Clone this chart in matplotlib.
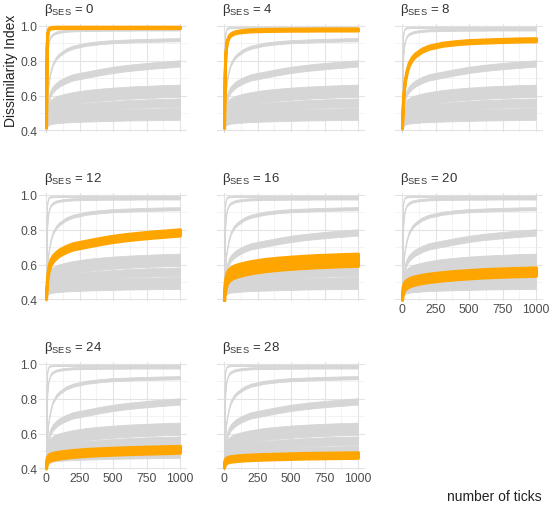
import matplotlib
matplotlib.use("Agg")
import matplotlib.pyplot as plt
from matplotlib.ticker import MultipleLocator
from matplotlib import font_manager
import numpy as np

# ---- data ----
betas = [0, 4, 8, 12, 16, 20, 24, 28]
ticks = [0, 5, 10, 20, 35, 50, 75, 100, 150, 200, 300, 400, 500, 600, 700, 800, 900, 1000]

di_b0 = [0.42, 0.88, 0.96, 0.985, 0.99, 0.991, 0.992, 0.992, 0.992, 0.992, 0.992, 0.992, 0.992, 0.992, 0.992, 0.992, 0.992, 0.992]
di_b4 = [0.42, 0.72, 0.84, 0.91, 0.94, 0.952, 0.962, 0.967, 0.972, 0.975, 0.977, 0.978, 0.979, 0.979, 0.98, 0.98, 0.98, 0.98]
di_b8 = [0.42, 0.53, 0.60, 0.68, 0.74, 0.78, 0.815, 0.835, 0.862, 0.878, 0.895, 0.904, 0.91, 0.913, 0.916, 0.918, 0.92, 0.921]
di_b12 = [0.42, 0.48, 0.53, 0.58, 0.615, 0.635, 0.655, 0.67, 0.69, 0.705, 0.72, 0.735, 0.748, 0.758, 0.766, 0.773, 0.779, 0.785]
di_b16 = [0.42, 0.46, 0.49, 0.52, 0.54, 0.55, 0.56, 0.567, 0.577, 0.585, 0.597, 0.605, 0.611, 0.616, 0.62, 0.623, 0.626, 0.628]
di_b20 = [0.42, 0.45, 0.465, 0.48, 0.49, 0.497, 0.505, 0.51, 0.518, 0.524, 0.533, 0.54, 0.545, 0.55, 0.553, 0.556, 0.558, 0.56]
di_b24 = [0.42, 0.44, 0.45, 0.46, 0.466, 0.47, 0.474, 0.477, 0.482, 0.486, 0.492, 0.496, 0.499, 0.502, 0.504, 0.506, 0.508, 0.51]
di_b28 = [0.42, 0.435, 0.442, 0.448, 0.452, 0.455, 0.457, 0.459, 0.462, 0.464, 0.467, 0.469, 0.471, 0.473, 0.474, 0.475, 0.476, 0.477]

# half-width of the noisy band of each run
band_halfwidth = [0.004, 0.006, 0.009, 0.018, 0.035, 0.024, 0.02, 0.016]

series = [di_b0, di_b4, di_b8, di_b12, di_b16, di_b20, di_b24, di_b28]

x_ticks = [0, 250, 500, 750, 1000]
y_ticks = [0.4, 0.6, 0.8, 1.0]

# ---- style ----
GRAY = "#d6d6d6"
ORANGE = "#FFA500"
available = {f.name for f in font_manager.fontManager.ttflist}
base = 'Liberation Sans Narrow' if 'Liberation Sans Narrow' in available else 'Liberation Sans'
plt.rcParams['font.family'] = [base, 'DejaVu Sans']
plt.rcParams['mathtext.fontset'] = 'custom'
plt.rcParams['mathtext.rm'] = base

W, H = 550, 506
fig = plt.figure(figsize=(W / 100, H / 100), dpi=100)

xlim = (-50, 1050)
ylim = (0.39, 1.012)
col_x0 = [39.3, 217.3, 395.3]
ax_w = 147.4
row_top = [24.9, 193.9, 362.9]
ax_h = 108.3

xs = np.array(ticks, dtype=float)

for i, b in enumerate(betas):
    r, c = divmod(i, 3)
    ax = fig.add_axes([col_x0[c] / W, 1 - (row_top[r] + ax_h) / H, ax_w / W, ax_h / H])
    ax.set_xlim(*xlim)
    ax.set_ylim(*ylim)
    for s in ax.spines.values():
        s.set_visible(False)
    ax.set_xticks(x_ticks)
    ax.set_yticks(y_ticks)
    ax.xaxis.set_minor_locator(MultipleLocator(125))
    ax.yaxis.set_minor_locator(MultipleLocator(0.1))
    ax.grid(True, which='major', color='#e3e3e3', lw=0.8)
    ax.grid(True, which='minor', color='#eeeeee', lw=0.5)
    ax.set_axisbelow(True)
    ax.tick_params(which='both', length=0, labelsize=8.8, colors='#4d4d4d', pad=1.5)
    if c != 0:
        ax.tick_params(axis='y', labelleft=False)
    if i not in (5, 6, 7):
        ax.tick_params(axis='x', labelbottom=False)

    for j, (vals, hw) in enumerate(zip(series, band_halfwidth)):
        v = np.array(vals)
        ax.fill_between(xs, v - hw, v + hw, color=GRAY, lw=0.6, edgecolor=GRAY, zorder=2)
    v = np.array(series[i])
    hw = band_halfwidth[i]
    ax.fill_between(xs, v - hw, v + hw, color=ORANGE, lw=2.2, edgecolor=ORANGE, zorder=3)

    ax.text(0.03, 1.06, r'β$_{\mathrm{SES}}$ = %d' % b, transform=ax.transAxes,
            ha='left', va='bottom', fontsize=9.5, color='#333333')

fig.text(11 / W, 1 - 71 / H, 'Dissimilarity Index', rotation=90, ha='center', va='center',
         fontsize=10, color='#222222')
fig.text(542 / W, 1 - 497 / H, 'number of ticks', ha='right', va='center',
         fontsize=10, color='#222222')

fig.savefig('out.png', dpi=100, facecolor='white')
